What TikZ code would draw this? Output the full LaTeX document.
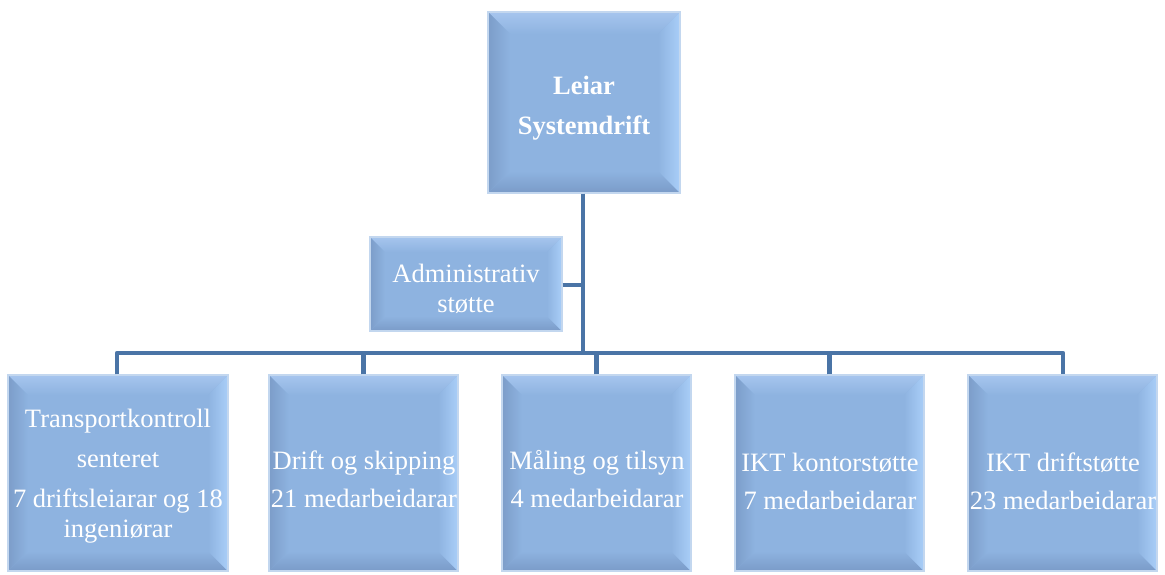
\documentclass[tikz,border=0pt]{standalone}
\usepackage{fontspec}
\setmainfont{Liberation Serif}
\definecolor{boxfill}{HTML}{8EB3E0}
\definecolor{bvtop}{HTML}{A6C5EE}
\definecolor{bvleft}{HTML}{7C9DC9}
\definecolor{bvright}{HTML}{A9CEF8}
\definecolor{bvbot}{HTML}{7A9BC8}
\definecolor{boxborder}{HTML}{C3D7EF}
\definecolor{linkcol}{HTML}{4A74A6}
\newcommand{\bevbox}[6]{%
  \fill[boxfill] (#2,#3) rectangle (#4,#5);
  \shade[top color=bvtop, bottom color=boxfill] (#2,#3) -- (#4,#3) -- (#4-#6,#3+#6) -- (#2+#6,#3+#6) -- cycle;
  \shade[top color=boxfill, bottom color=bvbot] (#2,#5) -- (#4,#5) -- (#4-#6,#5-#6) -- (#2+#6,#5-#6) -- cycle;
  \shade[left color=bvleft, right color=boxfill] (#2,#3) -- (#2+#6,#3+#6) -- (#2+#6,#5-#6) -- (#2,#5) -- cycle;
  \shade[left color=boxfill, right color=bvright] (#4,#3) -- (#4-#6,#3+#6) -- (#4-#6,#5-#6) -- (#4,#5) -- cycle;
  \node[boxframe, minimum width={(#4-#2)*1pt}, minimum height={(#5-#3)*1pt}] (#1) at ({(#2+#4)/2},{(#3+#5)/2}) {};
}
\begin{document}
\begin{tikzpicture}[x=1pt,y=-1pt,
  boxframe/.style={draw=boxborder, line width=1.3pt, inner sep=0pt, rectangle},
  boxtext/.style={text=white, align=center, inner sep=0pt, font=\fontsize{26.5}{30}\selectfont},
  link/.style={draw=linkcol, line width=4.5pt, line join=round}]
\useasboundingbox (0,0) rectangle (1165,574);
\fill[white] (0,0) rectangle (1165,574);

% connector corner points
\coordinate (hl) at (117,353);
\coordinate (hr) at (1063,353);
\coordinate (jn) at (583,353);
\coordinate (ja) at (583,285);

\bevbox{top}{488}{12}{680}{193}{22}
\bevbox{adm}{370}{237}{562}{331}{15}
\bevbox{b1}{8}{375}{228}{571}{20}
\bevbox{b2}{269}{375}{458}{571}{20}
\bevbox{b3}{502}{375}{691}{571}{20}
\bevbox{b4}{735}{375}{924}{571}{20}
\bevbox{b5}{968}{375}{1157}{571}{20}

\draw[link] (top.south -| jn) -- (jn);
\draw[link] (adm.east |- ja) -- (ja);
\draw[link] (b1.north -| hl) -- (hl) -- (hr) -- (b5.north -| hr);
\draw[link] (b2.north) -- (b2.north |- jn);
\draw[link] (b3.north) -- (b3.north |- jn);
\draw[link] (b4.north) -- (b4.north |- jn);

% texts
\node[boxtext, font=\fontsize{26.5}{40}\selectfont\bfseries] (ttop) at (584,108) {Leiar\\Systemdrift};
\node[boxtext] (tadm) at (466,289) {Administrativ\\støtte};
\node[boxtext] (tb1) at (118,476) {Transportkontroll\\[10pt]senteret\\[10pt]7 driftsleiarar og 18\\ingeniørar};
\node[boxtext] (tb2) at (364,479) {Drift og skipping\\[8pt]21 medarbeidarar};
\node[boxtext] (tb3) at (597,479) {Måling og tilsyn\\[8pt]4 medarbeidarar};
\node[boxtext] (tb4) at (830,481) {IKT kontorstøtte\\[8pt]7 medarbeidarar};
\node[boxtext] (tb5) at (1063,481) {IKT driftstøtte\\[8pt]23 medarbeidarar};
\end{tikzpicture}
\end{document}
